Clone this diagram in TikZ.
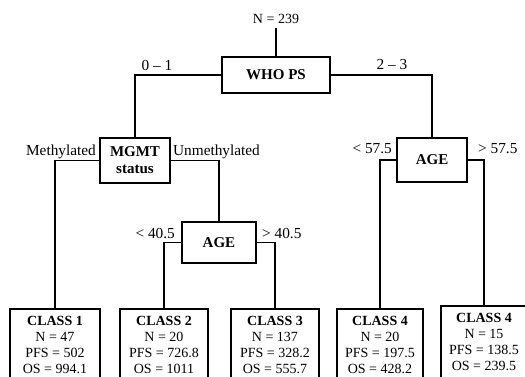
\documentclass[tikz,border=0pt]{standalone}
\usepackage{fontspec}
\setmainfont{Liberation Serif}
\begin{document}
\begin{tikzpicture}[x=1pt,y=-1pt,
  conn/.style={line width=1.1pt},
  decision/.style={draw,line width=1.5pt,inner sep=0pt,align=center,font=\fontsize{15}{17}\selectfont\bfseries},
  classbox/.style={draw,line width=1.5pt,inner sep=0pt,align=center,minimum height=72pt,font=\fontsize{14}{16}\selectfont},
  lbl/.style={inner sep=0pt,font=\fontsize{14}{16}\selectfont},
  edgelbl/.style={inner sep=0pt,font=\fontsize{15.3}{17}\selectfont}]
\useasboundingbox (0,0) rectangle (525,376);
\clip (0,0) rectangle (525,376);
% nodes
\node[lbl] (n239) at (276,19) {N = 239};
\coordinate (n239b) at (276,28);
\node[decision,minimum width=108pt,minimum height=36pt] (who) at (276,75) {WHO PS};
\node[decision,minimum width=70pt,minimum height=45pt] (mgmt) at (135,160.5) {MGMT\\status};
\node[decision,minimum width=70pt,minimum height=44pt] (ageR) at (432,160) {AGE};
\node[decision,minimum width=74pt,minimum height=41pt] (ageM) at (219,242.5) {AGE};
\node[classbox,minimum width=90pt] (c1) at (55,345) {\textbf{CLASS 1}\\N = 47\\PFS = 502\\OS = 994.1};
\node[classbox,minimum width=88pt] (c2) at (164,345) {\textbf{CLASS 2}\\N = 20\\PFS = 726.8\\OS = 1011};
\node[classbox,minimum width=88pt] (c3) at (275,345) {\textbf{CLASS 3}\\N = 137\\PFS = 328.2\\OS = 555.7};
\node[classbox,minimum width=86pt] (c4a) at (380,345) {\textbf{CLASS 4}\\N = 20\\PFS = 197.5\\OS = 428.2};
\node[classbox,minimum width=86pt] (c4b) at (484,342) {\textbf{CLASS 4}\\N = 15\\PFS = 138.5\\OS = 239.5};
% labels
\node[edgelbl] (l01) at (157,65) {0 -- 1};
\node[edgelbl] (l23) at (392,65) {2 -- 3};
\node[edgelbl,anchor=east] (lmeth) at (96,152) {Methylated};
\node[edgelbl,anchor=west] (lunm) at (173,152) {Unmethylated};
\node[edgelbl,anchor=east] (l405a) at (175,234) {< 40.5};
\node[edgelbl,anchor=west] (l405b) at (262,234) {> 40.5};
\node[edgelbl,anchor=east] (l575a) at (392,149) {< 57.5};
\node[edgelbl,anchor=west] (l575b) at (478,149) {> 57.5};
% connectors
\draw[conn] (n239b) -- (who.north);
\draw[conn] (who.west) -| (mgmt.north);
\draw[conn] (who.east) -| (ageR.north);
\draw[conn] (mgmt.west) -| (c1.north);
\draw[conn] (mgmt.east) -| (ageM.north);
\draw[conn] (ageM.west) -| (c2.north);
\draw[conn] (ageM.east) -| (c3.north);
\draw[conn] (ageR.west) -| (c4a.north);
\draw[conn] (ageR.east) -| (c4b.north);
\end{tikzpicture}
\end{document}
